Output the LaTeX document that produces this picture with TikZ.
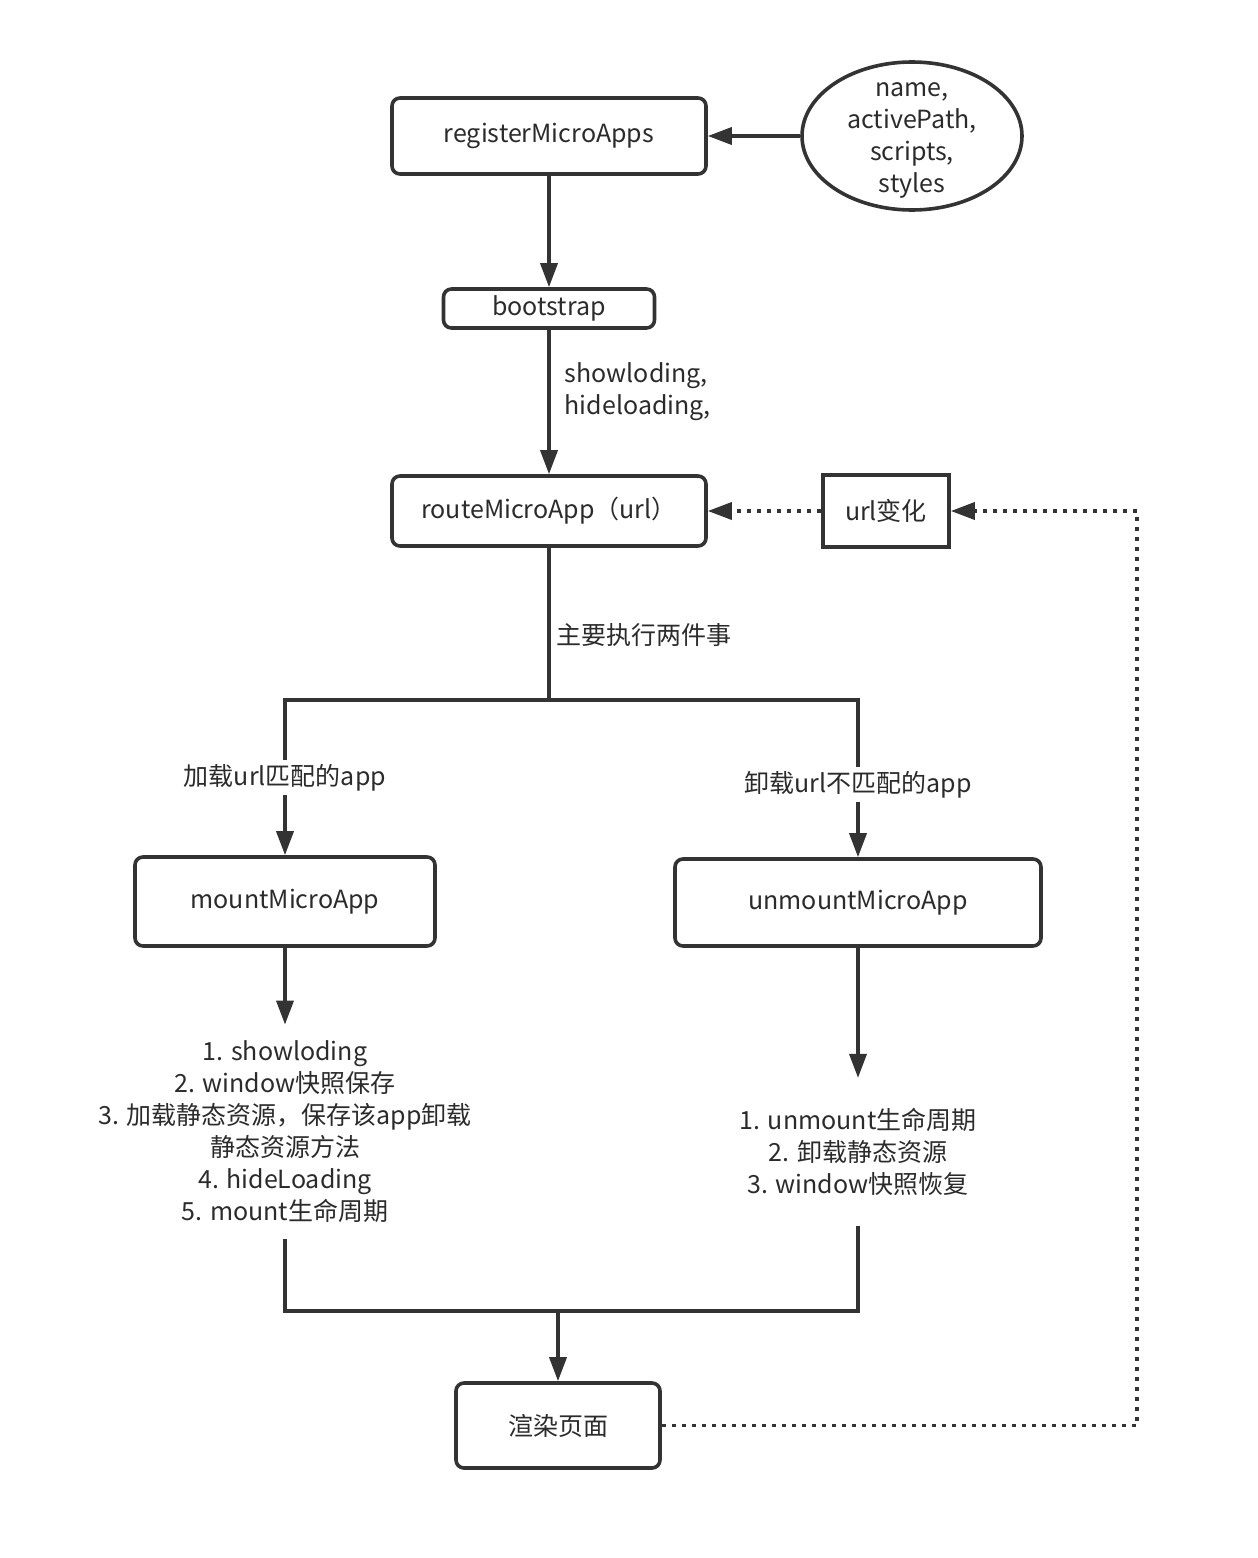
\documentclass[tikz,border=0pt]{standalone}
\usepackage{fontspec}
\setmainfont{Noto Sans CJK SC}
\usepackage{xcolor}
\usepackage{tikz}
\usetikzlibrary{shapes.geometric, arrows.meta}
\definecolor{flowink}{HTML}{333333}
\definecolor{flowtext}{HTML}{2B2B2B}
\newcommand{\flowfont}{\fontsize{12.5}{16}\selectfont}

\begin{document}
\begin{tikzpicture}[
    x=0.5pt, y=-0.5pt,
    font=\flowfont,
    stage/.style={draw=flowink,line width=1.8pt,rounded corners=4pt,inner sep=0pt,align=center,text=flowtext,fill=white},
    squarebox/.style={draw=flowink,line width=1.8pt,inner sep=0pt,align=center,text=flowtext,fill=white},
    ltext/.style={align=center,text=flowtext,inner xsep=2pt,inner ysep=2pt},
    link/.style={flowink,line width=1.8pt},
    arr/.style={link,-{Triangle[length=12pt,width=8.5pt]}},
    dotarr/.style={arr,dash pattern=on 2pt off 3pt},
  ]
    \useasboundingbox (0,0) rectangle (1258,1558);

    \node[stage, minimum width=157pt, minimum height=38pt] (reg) at (549,136) {registerMicroApps};
    \node[ellipse, draw=flowink, line width=1.8pt, inner xsep=0pt, inner ysep=-2pt, text height=56pt, text depth=0pt, minimum width=110pt, minimum height=74pt, align=center, text=flowtext] (opts) at (912,136) {name,\\activePath,\\scripts,\\styles};
    \node[stage, minimum width=105.5pt, minimum height=19.5pt] (boot) at (549,308.5) {bootstrap};
    \node[stage, minimum width=157pt, minimum height=35pt] (route) at (549,511) {routeMicroApp（url）};
    \node[squarebox, minimum width=63pt, minimum height=36pt] (urlc) at (886,511) {url变化};
    \node[stage, minimum width=150pt, minimum height=44.5pt] (mount) at (285,901.5) {mountMicroApp};
    \node[stage, minimum width=183pt, minimum height=43.5pt] (umount) at (858,902.5) {unmountMicroApp};
    \node[ltext, inner ysep=8pt] (mlist) at (285,1132) {1. showloding\\2. window快照保存\\3. 加载静态资源，保存该app卸载\\静态资源方法\\4. hideLoading\\5. mount生命周期};
    \node[ltext, inner ysep=15pt] (ulist) at (858,1152) {1. unmount生命周期\\2. 卸载静态资源\\3. window快照恢复};
    \node[stage, minimum width=102pt, minimum height=42.5pt] (render) at (558,1425.5) {渲染页面};

    \coordinate (split) at (549,700);
    \coordinate (join) at (558,1311);
    \coordinate (loop) at (1137,511);

    \draw[arr] (opts) -- (reg);
    \draw[arr] (reg) -- (boot);
    \draw[arr] (boot) -- node[ltext, right, align=left, pos=0.43, xshift=5pt] {showloding,\\hideloading,} (route);
    \draw[link] (route) -- node[ltext, right, pos=0.57, xshift=1pt] {主要执行两件事} (split);
    \draw[arr] (split) -| node[ltext, fill=white, pos=0.75] {加载url匹配的app} (mount);
    \draw[arr] (split) -| node[ltext, fill=white, pos=0.77] {卸载url不匹配的app} (umount);
    \draw[arr] (mount) -- (mlist);
    \draw[arr] (umount) -- (ulist);
    \draw[link] (mlist) |- (join) -| (ulist);
    \draw[arr] (join) -- (render);
    \draw[dotarr] (render) -| (loop) -- (urlc);
    \draw[dotarr] (urlc) -- (route);
  \end{tikzpicture}
\end{document}
